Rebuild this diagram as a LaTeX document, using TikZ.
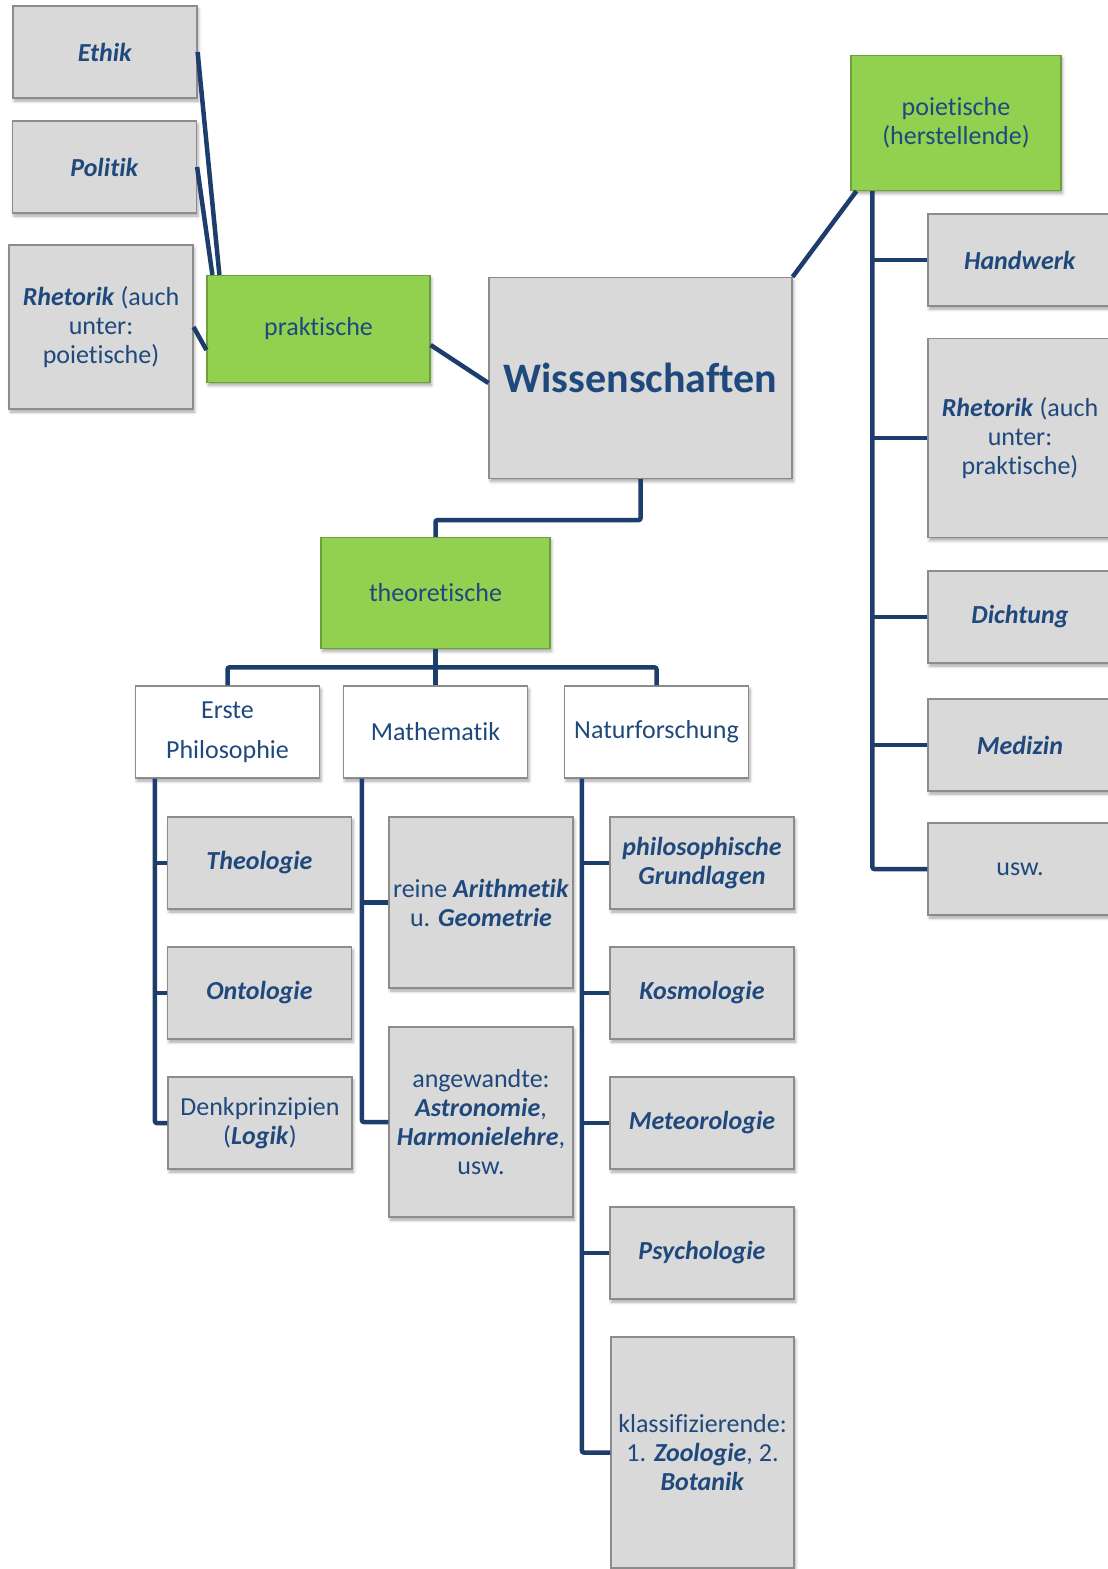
\documentclass[tikz,border=0pt]{standalone}
\usepackage{fontspec}
\setmainfont{Carlito}[Ligatures={NoCommon,NoContextual}]
\usetikzlibrary{calc,shadows.blur}
\definecolor{textblue}{HTML}{1F497D}
\definecolor{lineblue}{HTML}{1D3E6C}
\definecolor{boxgrey}{HTML}{D9D9D9}
\definecolor{boxedge}{HTML}{8C8C8C}
\definecolor{leafgreen}{HTML}{92D050}
\definecolor{greenedge}{HTML}{6F9F3A}
\newcommand{\bi}[1]{\textbf{\textit{#1}}}

\begin{document}
\begin{tikzpicture}[
    x=1pt, y=-1pt,
    every node/.style={align=center, text=textblue, inner sep=2pt,
        font=\fontsize{26}{29}\selectfont},
    soft shadow/.style={blur shadow={shadow xshift=1.5pt, shadow yshift=-3pt,
        shadow blur radius=3pt, shadow opacity=35}},
    grey box/.style={draw=boxedge, line width=1.2pt, fill=boxgrey,
        minimum width=184pt, minimum height=92pt, soft shadow},
    white box/.style={grey box, fill=white},
    green box/.style={draw=greenedge, line width=1.2pt, fill=leafgreen, soft shadow},
    branch line/.style={draw=lineblue, line width=4.5pt, rounded corners=2pt},
    ]
\useasboundingbox (0,0) rectangle (1108,1569);
% root and the three kinds
\node[grey box, minimum width=303pt, minimum height=201pt,
      font=\fontsize{42}{50}\selectfont\bfseries] (wiss) at (640.5,378) {Wissenschaften};
\node[green box, minimum width=223pt, minimum height=107pt] (prakt) at (318.5,329) {praktische};
\node[green box, minimum width=210pt, minimum height=135pt] (poiet) at (956,123) {poietische\\(herstellende)};
\node[green box, minimum width=229pt, minimum height=111pt] (theo) at (435.5,593) {theoretische};
% praktische
\node[grey box] (ethik) at (105,52) {\bi{Ethik}};
\node[grey box] (politik) at (104.5,167) {\bi{Politik}};
\node[grey box, minimum height=164pt] (rhetL) at (101,327) {\bi{Rhetorik} (auch\\unter:\\poietische)};
% poietische
\node[grey box] (handwerk) at (1020,260) {\bi{Handwerk}};
\node[grey box, minimum height=199pt] (rhetR) at (1020,438) {\bi{Rhetorik} (auch\\unter:\\praktische)};
\node[grey box] (dichtung) at (1020,617) {\bi{Dichtung}};
\node[grey box] (medizin) at (1020,745) {\bi{Medizin}};
\node[grey box] (usw) at (1020,869) {usw.};
% theoretische
\node[white box] (erste) at (227.5,732) {Erste\\[11pt]Philosophie};
\node[white box] (mathe) at (435.5,732) {Mathematik};
\node[white box] (natur) at (656.5,732) {Naturforschung};
\node[grey box] (theol) at (259.5,863) {\bi{Theologie}};
\node[grey box] (onto) at (259.5,993) {\bi{Ontologie}};
\node[grey box] (denk) at (260,1123) {Denkprinzipien\\(\bi{Logik})};
\node[grey box, minimum height=171pt] (reine) at (481,902.5) {reine \bi{Arithmetik}\\u. \bi{Geometrie}};
\node[grey box, minimum height=190pt] (angew) at (481,1122) {angewandte:\\\bi{Astronomie},\\\bi{Harmonielehre},\\usw.};
\node[grey box] (philgr) at (702,863) {\bi{philosophische}\\\bi{Grundlagen}};
\node[grey box] (kosmo) at (702,993) {\bi{Kosmologie}};
\node[grey box] (meteo) at (702,1123) {\bi{Meteorologie}};
\node[grey box] (psycho) at (702,1253) {\bi{Psychologie}};
\node[grey box, minimum width=183pt, minimum height=231pt] (klass) at (702.5,1452.5) {klassifizierende:\\1. \bi{Zoologie}, 2.\\\bi{Botanik}};
% connectors
\draw[branch line] (ethik.east) -- ($(prakt.north west)+(13,0)$);
\draw[branch line] (politik.east) -- ($(prakt.north west)+(6,0)$);
\draw[branch line] (rhetL.east) -- ($(prakt.west)+(0,21)$);
\draw[branch line] ($(prakt.east)+(0,16)$) -- ($(wiss.west)+(0,5)$);
\draw[branch line] (wiss.north east) -- ($(poiet.south west)+(6,0)$);
\draw[branch line] (wiss.south) -- ++(0,41) -| (theo.north);
\draw[branch line] (theo.south) -- (mathe.north);
\draw[branch line] (erste.north) -- ++(0,-18) -| (natur.north);
\coordinate (ptop) at ($(poiet.south west)+(22,0)$);
\draw[branch line] (ptop) |- (usw.west);
\draw[branch line] (handwerk.west) -- (handwerk.west -| ptop);
\draw[branch line] (rhetR.west) -- (rhetR.west -| ptop);
\draw[branch line] (dichtung.west) -- (dichtung.west -| ptop);
\draw[branch line] (medizin.west) -- (medizin.west -| ptop);
\coordinate (etop) at ($(erste.south west)+(20,0)$);
\draw[branch line] (etop) |- (denk.west);
\draw[branch line] (theol.west) -- (theol.west -| etop);
\draw[branch line] (onto.west) -- (onto.west -| etop);
\coordinate (mtop) at ($(mathe.south west)+(19,0)$);
\draw[branch line] (mtop) |- (angew.west);
\draw[branch line] (reine.west) -- (reine.west -| mtop);
\coordinate (ntop) at ($(natur.south west)+(18,0)$);
\draw[branch line] (ntop) |- (klass.west);
\draw[branch line] (philgr.west) -- (philgr.west -| ntop);
\draw[branch line] (kosmo.west) -- (kosmo.west -| ntop);
\draw[branch line] (meteo.west) -- (meteo.west -| ntop);
\draw[branch line] (psycho.west) -- (psycho.west -| ntop);
\end{tikzpicture}
\end{document}
